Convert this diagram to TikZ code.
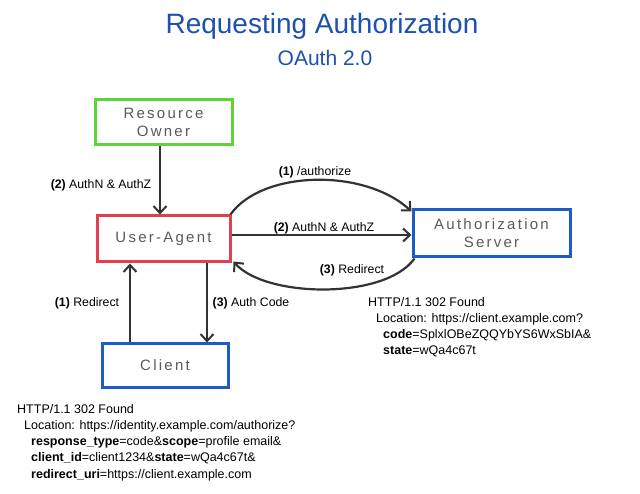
\documentclass[tikz,border=0pt]{standalone}
\usepackage{fontspec}
\setmainfont{Liberation Sans}
\newfontfamily\hand[LetterSpace=15]{Liberation Sans}
\usetikzlibrary{arrows.meta}
\definecolor{ttl}{HTML}{1E50B0}
\definecolor{gbox}{HTML}{5CD636}
\definecolor{rbox}{HTML}{E0404F}
\definecolor{bbox}{HTML}{1C5CC4}
\definecolor{ink}{HTML}{333333}
\definecolor{handink}{HTML}{5A5A5A}
\tikzset{
  box/.style={draw, line width=3pt, fill=white, inner sep=0pt, align=center,
    font=\hand\fontsize{15}{18}\selectfont, text=handink},
  arr/.style={draw=ink, line width=2.2pt, -{Straight Barb[length=7pt,width=13pt,line width=2pt]}},
  lbl/.style={font=\fontsize{12.3}{14}\selectfont, text=black, inner sep=0pt},
  http/.style={font=\fontsize{12.5}{16.2}\selectfont, align=left, anchor=north west, inner sep=0pt, text=black}
}
\begin{document}
\begin{tikzpicture}[x=1pt,y=-1pt]
\useasboundingbox[fill=white] (0,0) rectangle (640,494);

\node[text=ttl, font=\fontsize{28}{32}\selectfont, inner sep=0pt] (title) at (322,26) {Requesting Authorization};
\node[text=ttl, font=\fontsize{21}{24}\selectfont, inner sep=0pt] (subtitle) at (325,58) {OAuth 2.0};

\node[box, draw=gbox, minimum width=137pt, minimum height=45pt] (ro) at (163.5,122) {Resource\\Owner};
\node[box, draw=rbox, minimum width=133pt, minimum height=46pt] (ua) at (163.5,239) {User-Agent};
\node[box, draw=bbox, minimum width=157pt, minimum height=47pt] (as) at (491.5,233.5) {Authorization\\Server};
\node[box, draw=bbox, minimum width=126pt, minimum height=43pt] (cl) at (165,365.5) {Client};

% vertical connectors
\draw[arr] ([xshift=-3.5pt]ro.south) -- ([xshift=-3.5pt]ua.north);
\draw[arr] ([xshift=-35pt]cl.north) -- ([xshift=-33.5pt]ua.south);
\draw[arr] ([xshift=43.5pt]ua.south) -- ([xshift=42pt]cl.north);

% ua <-> as
\draw[arr] ([xshift=-1pt]ua.north east) .. controls (262,170) and (365,168) .. ([yshift=-3pt]as.north west);
\draw[arr] ([yshift=4pt]ua.east) -- ([yshift=-1.5pt]as.west);
\draw[arr] ([xshift=3pt]as.south west) .. controls (385,300) and (265,298) .. ([xshift=2pt,yshift=2pt]ua.south east);

% labels
\node[lbl] (l1) at (101,185) {\textbf{(2)} AuthN \& AuthZ};
\node[lbl] (l2) at (87,303) {\textbf{(1)} Redirect};
\node[lbl] (l3) at (251,303) {\textbf{(3)} Auth Code};
\node[lbl] (l4) at (315,172) {\textbf{(1)} /authorize};
\node[lbl] (l5) at (324,228) {\textbf{(2)} AuthN \& AuthZ};
\node[lbl] (l6) at (352,270) {\textbf{(3)} Redirect};

% http responses
\node[http] (h1) at (368,297) {HTTP/1.1 302 Found\\
\hspace*{8pt}Location: https://client.example.com?\\
\hspace*{15pt}\textbf{code}=SplxlOBeZQQYbYS6WxSbIA\&\\
\hspace*{15pt}\textbf{state}=wQa4c67t};

\node[http] (h2) at (17,404) {HTTP/1.1 302 Found\\
\hspace*{7pt}Location: https://identity.example.com/authorize?\\
\hspace*{14pt}\textbf{response\_type}=code\&\textbf{scope}=profile email\&\\
\hspace*{14pt}\textbf{client\_id}=client1234\&\textbf{state}=wQa4c67t\&\\
\hspace*{14pt}\textbf{redirect\_uri}=https://client.example.com};
\end{tikzpicture}
\end{document}
